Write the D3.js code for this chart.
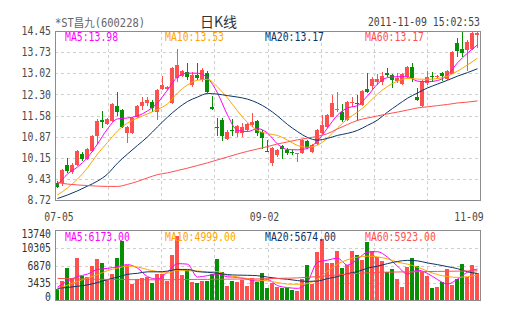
<!DOCTYPE html>
<html>
<head>
<meta charset="utf-8">
<script src="https://cdnjs.cloudflare.com/ajax/libs/d3/7.8.5/d3.min.js"></script>
<style>
  html, body { margin: 0; padding: 0; background: #fff; }
  svg { display: block; }
</style>
</head>
<body>
<svg id="chart" width="505" height="330"></svg>
<script>
// ---- daily K-line data: *ST昌九 (600228), 2011-07-05 .. 2011-11-09 ----
const openP = [
  9.31, 9.31, 9.91, 9.67, 9.91, 10.28, 10.11, 10.38, 10.89, 11.42,
  11.30, 11.40, 11.91, 11.77, 10.99, 10.99, 11.53, 11.91, 12.01, 12.04,
  11.70, 12.48, 12.48, 12.01, 12.86, 12.93, 13.07, 12.62, 12.96, 12.79,
  13.04, 11.88, 11.20, 11.43, 10.78, 11.08, 10.98, 10.98, 11.11, 11.26,
  11.40, 11.04, 10.39, 9.97, 10.25, 10.55, 10.42, 10.34, 10.30, 10.30,
  10.72, 10.36, 10.62, 11.00, 11.20, 11.54, 11.76, 11.71, 11.43, 12.02,
  12.00, 11.94, 12.50, 12.59, 12.73, 12.73, 13.04, 12.96, 12.77, 12.66,
  12.89, 13.23, 12.22, 11.91, 12.69, 12.92, 12.89, 13.02, 12.81, 13.00,
  14.03, 13.83, 13.81, 13.83, 14.30
];
const highP = [
  9.38, 9.77, 10.14, 9.97, 10.42, 10.35, 10.48, 10.93, 11.45, 11.74,
  11.50, 12.01, 12.38, 11.81, 11.23, 11.53, 11.94, 12.21, 12.21, 12.11,
  12.48, 12.92, 12.58, 13.23, 13.84, 13.13, 13.38, 13.07, 13.36, 13.19,
  13.09, 12.25, 11.50, 11.50, 11.09, 11.47, 11.26, 11.33, 11.33, 11.67,
  11.43, 11.09, 10.74, 10.53, 10.45, 10.59, 10.48, 10.42, 10.33, 10.78,
  10.75, 10.62, 11.13, 11.60, 11.64, 12.28, 12.39, 11.98, 12.08, 12.22,
  12.28, 12.45, 13.02, 12.90, 12.99, 13.07, 13.19, 12.99, 13.02, 13.04,
  13.26, 13.36, 12.51, 12.79, 13.09, 13.07, 12.96, 13.07, 13.13, 13.77,
  14.20, 14.43, 14.15, 14.40, 14.43
];
const lowP = [
  9.13, 9.20, 9.63, 9.60, 9.87, 10.04, 10.08, 10.35, 10.62, 11.16,
  11.26, 11.37, 11.57, 11.16, 10.65, 10.96, 11.50, 11.77, 11.91, 11.70,
  11.43, 12.45, 12.45, 11.98, 12.72, 12.89, 12.79, 12.56, 12.79, 12.73,
  12.36, 11.77, 10.88, 10.71, 10.74, 10.88, 10.86, 10.84, 11.02, 11.20,
  10.89, 10.46, 10.34, 9.87, 10.18, 10.11, 10.25, 10.25, 10.02, 10.28,
  10.45, 10.33, 10.58, 10.96, 11.16, 11.52, 11.71, 11.37, 11.40, 11.88,
  11.41, 11.91, 12.34, 12.45, 12.62, 12.62, 12.89, 12.51, 12.70, 12.62,
  12.87, 12.73, 12.09, 11.89, 12.62, 12.73, 12.81, 12.77, 12.79, 12.99,
  13.58, 13.58, 13.09, 13.81, 13.87
];
const closeP = [
  9.17, 9.74, 9.70, 9.91, 10.38, 10.11, 10.45, 10.89, 11.40, 11.38,
  11.45, 11.98, 11.70, 11.19, 11.19, 11.50, 11.91, 12.04, 12.11, 11.84,
  12.45, 12.62, 12.56, 13.21, 13.30, 13.09, 12.90, 12.96, 12.85, 13.13,
  12.39, 11.80, 11.17, 10.88, 11.04, 11.06, 11.23, 11.21, 11.28, 11.37,
  10.98, 10.81, 10.36, 10.47, 10.42, 10.44, 10.33, 10.32, 10.32, 10.75,
  10.47, 10.58, 11.09, 11.26, 11.60, 12.01, 11.79, 11.43, 12.05, 12.05,
  11.96, 12.43, 12.39, 12.81, 12.81, 12.93, 12.95, 12.80, 12.86, 12.98,
  13.24, 12.86, 12.11, 12.77, 12.89, 12.88, 12.92, 12.93, 13.11, 13.75,
  13.76, 13.69, 14.08, 14.37, 14.39
];
const volume = [
  2122, 3768, 6346, 4303, 8329, 4759, 4620, 6742, 8071, 7278,
  3966, 5096, 8269, 11700, 6941, 3173, 4105, 4422, 4620, 3431,
  5156, 5156, 3827, 8924, 12691, 4958, 5949, 3629, 3431, 3827,
  3827, 5156, 8130, 5612, 2776, 3768, 3510, 3966, 2836, 4303,
  3510, 5295, 2439, 3431, 2518, 2439, 2439, 1983, 1844, 4224,
  6941, 3113, 9578, 12096, 7397, 7397, 9717, 6405, 6941, 9717,
  8924, 7932, 11561, 9776, 8467, 7734, 5612, 6147, 4105, 2637,
  6603, 8388, 6742, 5612, 4759, 2439, 2518, 3629, 6088, 2975,
  4105, 7139, 4620, 6941, 5295
];

// moving averages, sampled every second trading day
const maDays = d3.range(0, 85, 2);
const priceMA5 = [
  9.23, 9.60, 9.84, 10.16, 10.62, 11.13, 11.47, 11.50, 11.57, 11.74,
  12.01, 12.45, 12.89, 13.02, 13.02, 12.86, 12.35, 11.60, 11.08, 11.04,
  11.14, 10.99, 10.62, 10.43, 10.42, 10.47, 10.72, 11.16, 11.60, 11.84,
  11.92, 12.25, 12.65, 12.87, 12.90, 12.90, 12.75, 12.73, 12.77, 12.96,
  13.37, 13.70, 13.98
];
const priceMA10 = [
  8.89, 9.13, 9.43, 9.81, 10.28, 10.67, 11.06, 11.33, 11.50, 11.64,
  11.79, 11.98, 12.35, 12.62, 12.78, 12.81, 12.55, 12.18, 11.74, 11.35,
  11.08, 10.97, 10.91, 10.75, 10.57, 10.51, 10.58, 10.82, 11.16, 11.47,
  11.70, 11.98, 12.31, 12.57, 12.75, 12.84, 12.82, 12.81, 12.84, 12.92,
  13.09, 13.30, 13.53
];
const priceMA20 = [
  8.77, 8.89, 9.03, 9.19, 9.36, 9.60, 9.97, 10.28, 10.57, 10.86,
  11.20, 11.53, 11.82, 12.06, 12.21, 12.33, 12.31, 12.26, 12.21, 12.14,
  12.01, 11.82, 11.57, 11.28, 11.04, 10.84, 10.75, 10.81, 10.91, 10.98,
  11.08, 11.25, 11.43, 11.70, 11.94, 12.17, 12.35, 12.52, 12.65, 12.78,
  12.92, 13.04, 13.17
];
const priceMA60 = [
  9.31, 9.26, 9.23, 9.21, 9.19, 9.18, 9.18, 9.25, 9.35, 9.47,
  9.58, 9.64, 9.72, 9.80, 9.89, 9.98, 10.08, 10.18, 10.28, 10.37,
  10.45, 10.53, 10.62, 10.69, 10.76, 10.82, 10.88, 10.97, 11.13, 11.28,
  11.42, 11.50, 11.57, 11.64, 11.70, 11.77, 11.84, 11.88, 11.92, 11.96,
  12.01, 12.04, 12.08
];
const volMA5 = [
  2578, 3768, 4660, 5156, 6088, 6286, 6643, 7040, 6346, 4660,
  4164, 5552, 7238, 7139, 4561, 4858, 5196, 4620, 4502, 4105,
  3768, 4065, 2875, 2479, 2320, 3569, 7535, 7932, 8329, 6941,
  8130, 9518, 9618, 8527, 6742, 5156, 5949, 5295, 4065, 3173,
  4164, 5552, 6173
];
const volMA10 = [
  2082, 2975, 3708, 4363, 5057, 5850, 6346, 6742, 6584, 6048,
  5652, 5354, 5949, 5810, 5790, 5612, 5652, 4898, 4601, 4263,
  3966, 3827, 3470, 3173, 3133, 3272, 4164, 5751, 7139, 8031,
  8527, 8725, 8586, 8190, 7535, 7139, 6544, 5751, 5057, 4660,
  4502, 4660, 4999
];
const volMA20 = [
  2320, 2499, 2737, 3014, 3470, 4065, 4561, 5116, 5314, 5612,
  5612, 5751, 6088, 6088, 5652, 5513, 5354, 5057, 4958, 4918,
  4839, 4561, 4303, 4125, 3867, 3708, 3768, 4263, 4660, 5255,
  5652, 6346, 6742, 7238, 7674, 7892, 7793, 7377, 7040, 6643,
  6246, 5612, 5300
];
const volMA60 = [
  4303, 4250, 4200, 4160, 4130, 4105, 4080, 4060, 4040, 4030,
  4026, 4040, 4060, 4080, 4100, 4105, 4130, 4150, 4170, 4190,
  4204, 4250, 4303, 4350, 4402, 4530, 4660, 4830, 4997, 5150,
  5295, 5400, 5513, 5550, 5580, 5612, 5640, 5665, 5691, 5720,
  5750, 5780, 5810
];

// labels
const stockTitle = "*ST昌九(600228)";
const chartKind = "日K线";
const stamp = "2011-11-09 15:02:53";
const priceTicks = [14.45, 13.73, 13.02, 12.30, 11.58, 10.87, 10.15, 9.43, 8.72];
const volTicks = [13740, 10305, 6870, 3435, 0];
const tickDays = [0, 42, 84];
const tickDates = ["07-05", "09-02", "11-09"];
const maNames = ["MA5", "MA10", "MA20", "MA60"];
const priceMALast = ["13.98", "13.53", "13.17", "13.17"];
const volMALast = ["6173.00", "4999.00", "5674.00", "5923.00"];

// ---- styling ----
const UP = "#ff5050", DOWN = "#058f05";
const maColors = ["#ff00ff", "#ffa500", "#0d3468", "#ff5050"];
const gridColor = "#cfcfcf", frameColor = "#8c8c8c";
const monoFont = "'DejaVu Sans Mono', 'Liberation Mono', monospace";
const charW = 5.9;

const svg = d3.select("#chart");
const left = 55, right = 480;
const priceTop = 31, priceBottom = 200;
const volTop = 231, volBottom = 300;

const x = d3.scaleBand()
  .domain(d3.range(closeP.length))
  .range([left, right])
  .paddingInner(0.2)
  .paddingOuter(0.1);
const y = d3.scaleLinear().domain(d3.extent(priceTicks)).range([priceBottom, priceTop]);
const yv = d3.scaleLinear().domain(d3.extent(volTicks)).range([volBottom, volTop]);

const bx = i => Math.floor(x(i));
const bw = Math.round(x.bandwidth());
const isUp = i => closeP[i] >= openP[i];
const px = v => Math.round(v) + 0.5;

function squeeze(sel) {
  sel.each(function () {
    const t = d3.select(this);
    const s = t.text();
    t.attr("textLength", s.length * charW).attr("lengthAdjust", "spacingAndGlyphs");
  });
}

// ---- vertical grid divisions (both panels) ----
const vDiv = d3.range(1, 8).map(k => left + k * (right - left) / 8);
function drawGrid(g, yTop, yBot, ticks, scale) {
  g.selectAll("line.v").data(vDiv).join("line")
    .attr("x1", d => px(d)).attr("x2", d => px(d))
    .attr("y1", yTop).attr("y2", yBot);
  g.selectAll("line.h").data(ticks.slice(1, -1)).join("line")
    .attr("x1", left).attr("x2", right)
    .attr("y1", d => px(scale(d))).attr("y2", d => px(scale(d)));
  g.selectAll("line")
    .attr("stroke", gridColor).attr("stroke-width", 1)
    .attr("stroke-dasharray", "3,3").attr("shape-rendering", "crispEdges");
}
drawGrid(svg.append("g"), priceTop, priceBottom, priceTicks, y);
drawGrid(svg.append("g"), volTop, volBottom, volTicks, yv);

// ---- candles ----
const candles = svg.append("g").attr("shape-rendering", "crispEdges");
const idx = d3.range(closeP.length);
candles.selectAll("line").data(idx).join("line")
  .attr("x1", i => bx(i) + 2.5).attr("x2", i => bx(i) + 2.5)
  .attr("y1", i => y(highP[i])).attr("y2", i => y(lowP[i]))
  .attr("stroke", i => isUp(i) ? UP : DOWN);
candles.selectAll("rect").data(idx).join("rect")
  .attr("x", i => bx(i)).attr("width", bw)
  .attr("y", i => y(Math.max(openP[i], closeP[i])))
  .attr("height", i => Math.max(1, Math.abs(y(openP[i]) - y(closeP[i]))))
  .attr("fill", i => isUp(i) ? UP : DOWN);

// ---- volume bars ----
svg.append("g").attr("shape-rendering", "crispEdges")
  .selectAll("rect").data(idx).join("rect")
  .attr("x", i => bx(i)).attr("width", bw)
  .attr("y", i => yv(volume[i]))
  .attr("height", i => volBottom - yv(volume[i]))
  .attr("fill", i => isUp(i) ? UP : DOWN);

// ---- moving average lines ----
const dayX = d => x(d) + x.bandwidth() / 2;
function drawMA(series, scale) {
  const line = d3.line()
    .x((v, k) => dayX(maDays[k]))
    .y(v => scale(v))
    .curve(d3.curveMonotoneX);
  svg.append("g").selectAll("path").data(series).join("path")
    .attr("d", line)
    .attr("fill", "none")
    .attr("stroke", (s, k) => maColors[k])
    .attr("stroke-width", 1);
}
drawMA([priceMA5, priceMA10, priceMA20, priceMA60], y);
drawMA([volMA5, volMA10, volMA20, volMA60], yv);

// ---- frames ----
svg.append("rect").attr("x", left + 0.5).attr("y", priceTop + 0.5)
  .attr("width", right - left).attr("height", priceBottom - priceTop)
  .attr("fill", "none").attr("stroke", frameColor).attr("shape-rendering", "crispEdges");
svg.append("rect").attr("x", left + 0.5).attr("y", volTop - 0.5)
  .attr("width", right - left).attr("height", volBottom - volTop + 1)
  .attr("fill", "none").attr("stroke", frameColor).attr("shape-rendering", "crispEdges");

// ---- axes ----
function styleAxis(g, color) {
  g.select(".domain").remove();
  g.selectAll(".tick line").remove();
  g.selectAll("text").attr("font-family", monoFont).attr("font-size", 11.5)
    .attr("fill", color).call(squeeze);
}
svg.append("g").attr("transform", `translate(${left},0)`)
  .call(d3.axisLeft(y).tickValues(priceTicks).tickSize(0).tickPadding(4).tickFormat(d3.format(".2f")))
  .call(g => styleAxis(g, "#4a4a4a"));

svg.append("g").attr("transform", `translate(${left},0)`)
  .call(d3.axisLeft(yv).tickValues(volTicks).tickSize(0).tickPadding(4).tickFormat(d3.format("d")))
  .call(g => styleAxis(g, "#333"))
  .call(g => g.selectAll(".tick text")
    .attr("y", d => d === d3.max(volTicks) ? 2.5 : (d === 0 ? -3.5 : 0)));

svg.append("g").attr("transform", `translate(0,${priceBottom})`)
  .call(d3.axisBottom(x).tickValues(tickDays).tickSize(0).tickPadding(12.5)
    .tickFormat(d => tickDates[tickDays.indexOf(d)]))
  .call(g => styleAxis(g, "#4a4a4a"))
  .call(g => g.selectAll(".tick text")
    .attr("x", d => d === tickDays[0] ? 1.5 : (d === tickDays[2] ? -8.5 : -3)));

// ---- header ----
svg.append("text").attr("x", left).attr("y", 26.5)
  .attr("font-family", monoFont + ", 'Noto Sans CJK SC'").attr("font-size", 11.5)
  .attr("fill", "#666").attr("textLength", 90).attr("lengthAdjust", "spacingAndGlyphs")
  .text(stockTitle);
svg.append("text").attr("x", 218.5).attr("y", 27).attr("text-anchor", "middle")
  .attr("font-family", "'Noto Sans CJK SC'").attr("font-size", 14)
  .attr("fill", "#333").text(chartKind);
svg.append("text").attr("x", right).attr("y", 26).attr("text-anchor", "end")
  .attr("font-family", monoFont).attr("font-size", 11.5).attr("fill", "#444")
  .text(stamp).call(squeeze);

// ---- MA legends ----
function legend(values, baseY) {
  svg.append("g").selectAll("text").data(maNames).join("text")
    .attr("x", (d, k) => 65 + 100 * k).attr("y", baseY)
    .attr("font-family", monoFont).attr("font-size", 11.5)
    .attr("fill", (d, k) => maColors[k])
    .text((d, k) => `${d}:${values[k]}`)
    .call(squeeze);
}
legend(priceMALast, 40.5);
legend(volMALast, 240.5);
</script>
</body>
</html>
